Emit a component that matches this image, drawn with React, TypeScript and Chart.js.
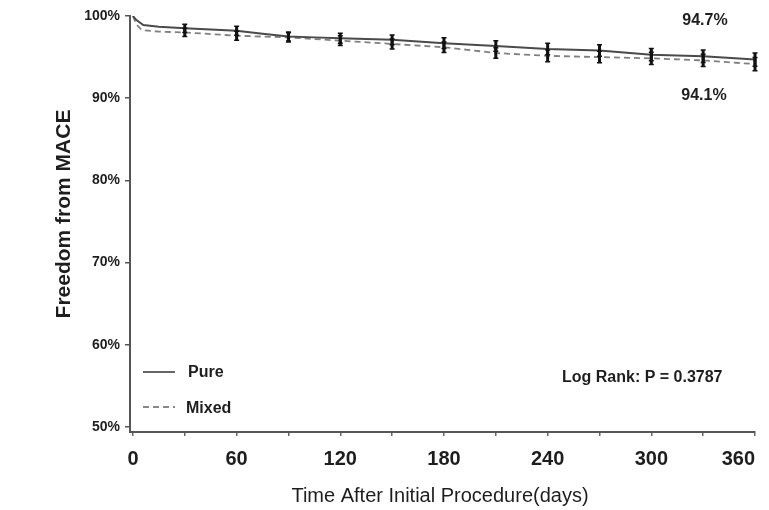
import { useEffect, useRef } from 'react';
import { Chart, registerables } from 'chart.js';

Chart.register(...registerables);

// ---- data ----
const pureLabel = 'Pure';
const mixedLabel = 'Mixed';
const pureDays = [0, 2, 6, 15, 30, 45, 60, 75, 90, 105, 120, 150, 180, 210, 240, 270, 300, 330, 360];
const pureValues = [100, 99.5, 98.9, 98.7, 98.5, 98.35, 98.2, 97.85, 97.5, 97.4, 97.3, 97.1, 96.7, 96.35, 96.0, 95.8, 95.3, 95.1, 94.7];
const mixedDays = [0, 2, 5, 15, 30, 45, 60, 90, 120, 150, 180, 210, 240, 270, 300, 330, 360];
const mixedValues = [100, 99.0, 98.3, 98.1, 98.0, 97.8, 97.6, 97.4, 97.0, 96.6, 96.2, 95.5, 95.15, 95.0, 94.85, 94.6, 94.15];
const errorDays = [30, 60, 90, 120, 150, 180, 210, 240, 270, 300, 330, 360];
const pureErr = [0.5, 0.55, 0.55, 0.6, 0.6, 0.65, 0.65, 0.7, 0.7, 0.75, 0.75, 0.8];
const mixedErr = [0.5, 0.55, 0.55, 0.6, 0.6, 0.65, 0.65, 0.7, 0.7, 0.75, 0.75, 0.8];
const xTickLabels = [0, 60, 120, 180, 240, 300, 360];
const xMinorTicks = [0, 30, 60, 90, 120, 150, 180, 210, 240, 270, 300, 330, 360];
const yTicks = [50, 60, 70, 80, 90, 100];
const endLabels = ['94.7%', '94.1%'];
const logRankText = 'Log Rank: P = 0.3787';
const xTitle = 'Time After Initial Procedure(days)';
const yTitle = 'Freedom from MACE';

const FONT = '"Liberation Sans", Arial, Helvetica, sans-serif';
const TEXT = '#1e1e1e';

const toPoints = (days: number[], vals: number[]) => days.map((d, i) => ({ x: d, y: vals[i] }));

const overlay = {
  id: 'overlay',
  afterDatasetsDraw(chart: any) {
    const { ctx } = chart;
    const xs = chart.scales.x;
    const ys = chart.scales.y;
    const series = [
      { days: pureDays, vals: pureValues, err: pureErr },
      { days: mixedDays, vals: mixedValues, err: mixedErr },
    ];
    ctx.save();
    ctx.strokeStyle = '#111';
    series.forEach((s) => {
      errorDays.forEach((d, i) => {
        const idx = s.days.indexOf(d);
        if (idx < 0) return;
        const v = s.vals[idx];
        const px = xs.getPixelForValue(d);
        const top = ys.getPixelForValue(v + s.err[i]);
        const bot = ys.getPixelForValue(v - s.err[i]);
        ctx.lineWidth = 3;
        ctx.beginPath();
        ctx.moveTo(px, top);
        ctx.lineTo(px, bot);
        ctx.stroke();
        ctx.lineWidth = 1.5;
        ctx.beginPath();
        ctx.moveTo(px - 2.5, top);
        ctx.lineTo(px + 2.5, top);
        ctx.moveTo(px - 2.5, bot);
        ctx.lineTo(px + 2.5, bot);
        ctx.stroke();
      });
    });
    ctx.restore();
  },
  afterDraw(chart: any) {
    const { ctx, chartArea } = chart;
    const xs = chart.scales.x;
    ctx.save();
    ctx.fillStyle = TEXT;

    // x tick labels
    ctx.font = `bold 20px ${FONT}`;
    ctx.textBaseline = 'alphabetic';
    ctx.textAlign = 'center';
    xTickLabels.forEach((v) => {
      const t = String(v);
      const w = ctx.measureText(t).width;
      let px = xs.getPixelForValue(v);
      if (px + w / 2 > chartArea.right) px = chartArea.right - w / 2;
      ctx.fillText(t, px, 465);
    });

    // x title
    ctx.font = `20px ${FONT}`;
    ctx.fillText(xTitle, 440, 502);

    // y title
    ctx.save();
    ctx.translate(64, 214);
    ctx.rotate(-Math.PI / 2);
    ctx.font = `bold 21px ${FONT}`;
    ctx.textBaseline = 'middle';
    ctx.fillText(yTitle, 0, 0);
    ctx.restore();

    // end labels
    ctx.font = `bold 16px ${FONT}`;
    ctx.textAlign = 'center';
    ctx.fillText(endLabels[0], 705, 25);
    ctx.fillText(endLabels[1], 704, 100);

    // log rank
    ctx.textAlign = 'left';
    ctx.fillText(logRankText, 562, 382);

    // legend
    ctx.strokeStyle = '#555';
    ctx.lineWidth = 1.8;
    ctx.beginPath();
    ctx.moveTo(143, 372);
    ctx.lineTo(175, 372);
    ctx.stroke();
    ctx.strokeStyle = '#888';
    ctx.setLineDash([6, 4]);
    ctx.beginPath();
    ctx.moveTo(143, 407);
    ctx.lineTo(175, 407);
    ctx.stroke();
    ctx.setLineDash([]);
    ctx.fillText(pureLabel, 188, 377);
    ctx.fillText(mixedLabel, 186, 413);

    ctx.restore();
  },
};

export default function App() {
  const ref = useRef<HTMLCanvasElement>(null);
  useEffect(() => {
    const chart = new Chart(ref.current as HTMLCanvasElement, {
      type: 'line',
      data: {
        datasets: [
          {
            label: pureLabel,
            data: toPoints(pureDays, pureValues),
            borderColor: '#4a4a4a',
            borderWidth: 2,
            pointRadius: 0,
            tension: 0,
            fill: false,
          },
          {
            label: mixedLabel,
            data: toPoints(mixedDays, mixedValues),
            borderColor: '#808080',
            borderWidth: 1.8,
            borderDash: [6, 4],
            pointRadius: 0,
            tension: 0,
            fill: false,
          },
        ],
      },
      options: {
        responsive: false,
        animation: false,
        devicePixelRatio: 1,
        layout: { padding: { top: 16, right: 14, bottom: 0, left: 0 } },
        plugins: { legend: { display: false }, tooltip: { enabled: false } },
        scales: {
          x: {
            type: 'linear',
            min: -1.7,
            max: 360,
            afterBuildTicks: (s: any) => {
              s.ticks = xMinorTicks.map((v) => ({ value: v }));
            },
            afterFit: (s: any) => {
              s.height = 78;
              s.paddingLeft = 0;
              s.paddingRight = 0;
            },
            ticks: { callback: () => '', padding: 0, autoSkip: false, maxRotation: 0 },
            grid: { drawOnChartArea: false, drawTicks: true, tickLength: 4, color: '#666', lineWidth: 1.5 },
            border: { display: true, color: '#555', width: 2 },
          },
          y: {
            type: 'linear',
            min: 49.4,
            max: 100,
            afterBuildTicks: (s: any) => {
              s.ticks = yTicks.map((v) => ({ value: v }));
            },
            afterFit: (s: any) => {
              s.width = 130;
            },
            ticks: {
              callback: (v: any) => v + '%',
              font: { family: FONT, size: 14, weight: 'bold' },
              color: TEXT,
              padding: 5,
            },
            grid: { drawOnChartArea: false, drawTicks: true, tickLength: 5, color: '#555', lineWidth: 1.5 },
            border: { display: true, color: '#555', width: 2 },
          },
        },
      },
      plugins: [overlay],
    } as any);
    return () => chart.destroy();
  }, []);
  return (
    <div style={{ position: 'fixed', left: 0, top: 0, width: 769, height: 510, background: '#fff' }}>
      <canvas ref={ref} width={769} height={510} style={{ display: 'block' }} />
    </div>
  );
}
